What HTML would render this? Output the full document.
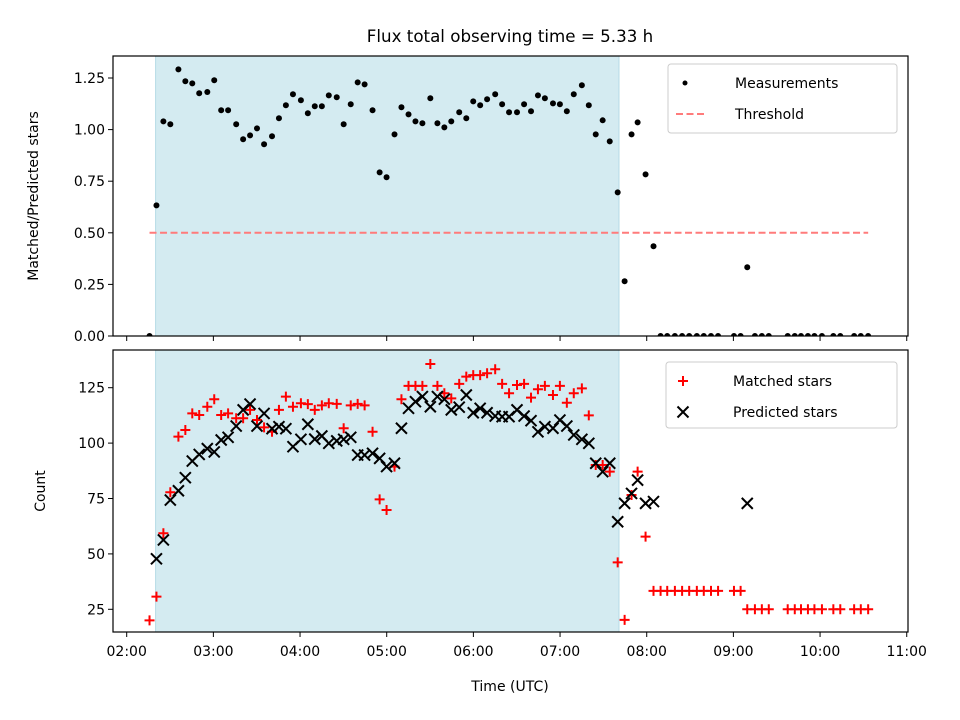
<!DOCTYPE html>
<html><head><meta charset="utf-8"><style>
html,body{margin:0;padding:0;background:#fff}
svg{display:block;font-family:"DejaVu Sans","Liberation Sans",sans-serif}
</style></head><body>
<svg id="chart" width="960" height="720" viewBox="0 0 960 720" xmlns="http://www.w3.org/2000/svg">
<defs>
<clipPath id="clipTop"><rect x="113" y="56" width="795" height="280"/></clipPath>
<clipPath id="clipBot"><rect x="113" y="350" width="795" height="282"/></clipPath>
</defs>
<rect width="960" height="720" fill="#fff"/>
<text x="510" y="42" text-anchor="middle" font-size="16.7">Flux total observing time = 5.33 h</text>
<g id="topPanel"></g>
<g id="botPanel"></g>
<text x="510" y="691" text-anchor="middle" font-size="14">Time (UTC)</text>
<text transform="translate(38,196) rotate(-90)" text-anchor="middle" font-size="14">Matched/Predicted stars</text>
<text transform="translate(45,491) rotate(-90)" text-anchor="middle" font-size="14">Count</text>
</svg>
<script>
// minutes since 02:00 UTC
const times = [15.8,20.6,25.4,30.2,35.8,40.6,45.4,50.2,55.8,60.6,65.4,70.2,75.8,80.6,85.4,90.2,95.1,100.6,105.4,110.2,115.1,120.6,125.4,130.2,135.1,139.9,145.4,150.2,155.1,159.9,164.7,170.2,175.1,179.9,185.4,190.2,195.1,199.9,204.7,210.2,215.1,219.9,224.7,230.2,235.1,239.9,244.7,249.5,255.1,259.9,264.7,270.2,275.1,279.9,284.7,289.5,295.1,299.9,304.7,309.5,315.1,319.9,324.7,329.5,334.4,339.9,344.7,349.5,353.7,359.2,364.7,369.6,374.2,379.5,384.5,389.4,394.7,399.5,404.5,409.4,420.4,425.0,429.6,434.9,439.7,444.5,457.6,462.5,466.8,471.6,476.1,481.3,489.2,494.0,503.6,508.2,513.3];
const ratio = [0,0.633,1.040,1.026,1.292,1.234,1.224,1.176,1.182,1.239,1.094,1.094,1.026,0.953,0.972,1.006,0.929,0.968,1.055,1.118,1.171,1.142,1.079,1.113,1.113,1.166,1.157,1.026,1.123,1.229,1.219,1.094,0.793,0.769,0.977,1.108,1.074,1.040,1.031,1.152,1.031,1.011,1.040,1.084,1.055,1.137,1.118,1.147,1.171,1.123,1.084,1.084,1.123,1.089,1.166,1.152,1.127,1.123,1.089,1.171,1.215,1.118,0.977,1.045,0.943,0.696,0.265,0.977,1.035,0.783,0.435,0,0,0,0,0,0,0,0,0,0,0,0.333,0,0,0,0,0,0,0,0,0,0,0,0,0,0];
const matched = [20,30.7,59.3,77.8,102.9,105.9,113.4,112.7,116.4,119.8,112.7,113.4,111.2,111.2,115,110.4,107.1,105.1,115,121,116.4,118,117.6,115,117,118,117.7,106.7,117,117.7,117,105.1,74.6,69.8,89.4,119.8,125.8,125.8,125.8,135.7,125.8,122.5,120.2,126.7,130,130.7,130.7,131.5,133.3,126.7,122.5,126.2,126.7,120.5,124.3,125.8,121.7,125.8,118.2,122.5,124.7,112.5,90.1,90.1,87.1,46.2,20.2,76.6,87.1,57.8,33.3,33.3,33.3,33.3,33.3,33.3,33.3,33.3,33.3,33.3,33.3,33.3,25,25,25,25,25,25,25,25,25,25,25,25,25,25,25];
const predicted = [null,47.8,56.3,74.3,78.5,84.4,91.9,94.9,97.5,96,101.4,102.6,107.7,115,117.6,107.7,113.4,106.5,107.4,106.5,98.4,101.7,108.5,101.8,103.2,99.9,101,101.7,102.6,94.6,94.6,95.4,93.1,89.4,90.9,106.7,115.7,118.7,121,116.4,121,119.8,115,116.2,121.7,113.7,115.7,113.7,112.2,111.9,111.9,115,112.2,110.1,105.1,107.4,106.7,110.4,107.7,103.7,101.7,99.9,90.9,87.1,90.9,64.5,72.8,77.3,83.3,72.8,73.6,null,null,null,null,null,null,null,null,null,null,null,72.8,null,null,null,null,null,null,null,null,null,null,null,null,null,null];
const threshold = 0.5;
const spanStart = 20, spanEnd = 340.8;
const xTickHours = [2,3,4,5,6,7,8,9,10,11];
const xTickLabels = ["02:00","03:00","04:00","05:00","06:00","07:00","08:00","09:00","10:00","11:00"];
const topTicks = [0,0.25,0.5,0.75,1.0,1.25];
const botTicks = [25,50,75,100,125];

const NS="http://www.w3.org/2000/svg";
const xS = m => 126.7 + m/60*86.67;
const xH = h => 126.7 + (h-2)*86.67;
const yT = v => 336 - v*206.4;
const yB = v => 609.3 - (v-25)*2.216;
function mk(parent, tag, attrs, text){
  const e=document.createElementNS(NS,tag);
  for(const k in attrs) e.setAttribute(k,attrs[k]);
  if(text!==undefined) e.textContent=text;
  parent.appendChild(e); return e;
}
const topG=document.getElementById('topPanel'), botG=document.getElementById('botPanel');

function panel(g, y0, y1, ticks, yf, fmt, showX){
  const span=mk(g,'rect',{x:xS(spanStart),y:y0,width:xS(spanEnd)-xS(spanStart),height:y1-y0,fill:'#d4ebf1',stroke:'#b5dbe6','stroke-width':1});
  
  
  ticks.forEach(t=>{
    const y=yf(t);
    const l=mk(g,'line',{x1:108,x2:113,y1:y,y2:y,stroke:'#000','stroke-width':1});
    
    
    const tx=mk(g,'text',{x:105,y:y+5,'text-anchor':'end','font-size':14},fmt(t));
    
    
  });
  xTickHours.forEach((h,i)=>{
    const x=xH(h);
    const l=mk(g,'line',{x1:x,x2:x,y1:y1,y2:y1+5,stroke:'#000','stroke-width':1});
    
    
    if(showX){
      const tx=mk(g,'text',{x:x,y:y1+24,'text-anchor':'middle','font-size':14},xTickLabels[i]);
      
      
    }
  });
}
panel(topG,56,336,topTicks,yT,v=>v.toFixed(2),false);
panel(botG,350,632,botTicks,yB,v=>String(v),true);

// top series
const tg=mk(topG,'g',{'clip-path':'url(#clipTop)'});
const th=mk(tg,'line',{x1:xS(times[0]),x2:xS(times[times.length-1]),y1:yT(threshold),y2:yT(threshold),stroke:'#ff7b7b','stroke-width':2,'stroke-dasharray':'7,3.5'});


ratio.forEach((v,i)=>{
  const c=mk(tg,'circle',{cx:xS(times[i]),cy:yT(v),r:3,fill:'#000'});
  
  
});
// bottom series
const bg=mk(botG,'g',{'clip-path':'url(#clipBot)'});
matched.forEach((v,i)=>{
  if(v===null) return;
  const x=xS(times[i]), y=yB(v);
  const p=mk(bg,'path',{d:`M${x-5},${y}H${x+5}M${x},${y-5}V${y+5}`,stroke:'#f00','stroke-width':2,fill:'none'});
  
  
});
predicted.forEach((v,i)=>{
  if(v===null) return;
  const x=xS(times[i]), y=yB(v);
  const p=mk(bg,'path',{d:`M${x-5.5},${y-5.5}L${x+5.5},${y+5.5}M${x-5.5},${y+5.5}L${x+5.5},${y-5.5}`,stroke:'#000','stroke-width':2,fill:'none'});
  
  
});
// frames
[[topG,56,336],[botG,350,632]].forEach(([g,a,b])=>{
  const f=mk(g,'rect',{x:113,y:a,width:795,height:b-a,fill:'none',stroke:'#000','stroke-width':1.2});
  
  
});
// legends
function legend(g,x,y,w,h,items){
  const lg=mk(g,'g',{});
  
  
  mk(lg,'rect',{x:x,y:y,width:w,height:h,rx:3,fill:'#fff','fill-opacity':0.85,stroke:'#ccc'});
  items.forEach((it,i)=>{
    const cy=y+19+i*31;
    const e=mk(lg,'g',{});
    
    
    it.draw(e,x+17,cy);
    mk(e,'text',{x:x+67,y:cy+5,'font-size':14},it.label);
  });
}
legend(topG,668,64,229,69,[
  {label:'Measurements',draw:(e,x,y)=>mk(e,'circle',{cx:x,cy:y,r:2.5,fill:'#000'})},
  {label:'Threshold',draw:(e,x,y)=>mk(e,'line',{x1:x-9,x2:x+20,y1:y,y2:y,stroke:'#ff7b7b','stroke-width':2,'stroke-dasharray':'7,3.5'})}
]);
legend(botG,666,362,231,66,[
  {label:'Matched stars',draw:(e,x,y)=>mk(e,'path',{d:`M${x-5},${y}H${x+5}M${x},${y-5}V${y+5}`,stroke:'#f00','stroke-width':2})},
  {label:'Predicted stars',draw:(e,x,y)=>mk(e,'path',{d:`M${x-5.5},${y-5.5}L${x+5.5},${y+5.5}M${x-5.5},${y+5.5}L${x+5.5},${y-5.5}`,stroke:'#000','stroke-width':2})}
]);
</script>
</body></html>
